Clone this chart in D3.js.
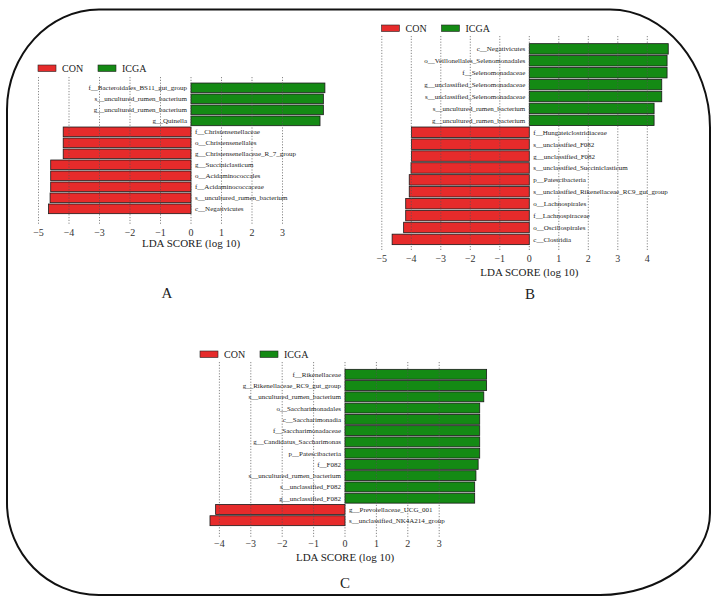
<!DOCTYPE html>
<html>
<head>
<meta charset="utf-8">
<script src="https://cdn.jsdelivr.net/npm/d3@7/dist/d3.min.js"></script>
<style>
  html, body { margin: 0; padding: 0; background: #fff; }
  svg { display: block; }
</style>
</head>
<body>
<svg id="chart" width="719" height="603" font-family="'Liberation Serif', 'Times New Roman', Times, 'DejaVu Serif', serif"></svg>
<script>
// ---------- DATA ----------
const groups = ["CON", "ICGA"];

const labelsA = [
  "f__Bacteroidales_BS11_gut_group",
  "s__uncultured_rumen_bacterium",
  "g__uncultured_rumen_bacterium",
  "g__Quinella",
  "f__Christensenellaceae",
  "o__Christensenellales",
  "g__Christensenellaceae_R_7_group",
  "g__Succiniclasticum",
  "o__Acidaminococcales",
  "f__Acidaminococcaceae",
  "s__uncultured_rumen_bacterium",
  "c__Negativicutes"
];
const valuesA = [4.39, 4.34, 4.34, 4.23, -4.19, -4.19, -4.19, -4.60, -4.60, -4.60, -4.62, -4.67];
const ticksA = [-5, -4, -3, -2, -1, 0, 1, 2, 3];

const labelsB = [
  "c__Negativicutes",
  "o__Veillonellales_Selenomonadales",
  "f__Selenomonadaceae",
  "g__unclassified_Selenomonadaceae",
  "s__unclassified_Selenomonadaceae",
  "s__uncultured_rumen_bacterium",
  "g__uncultured_rumen_bacterium",
  "f__Hungateiclostridiaceae",
  "s__unclassified_F082",
  "g__unclassified_F082",
  "s__unclassified_Succiniclasticum",
  "p__Patescibacteria",
  "s__unclassified_Rikenellaceae_RC9_gut_group",
  "o__Lachnospirales",
  "f__Lachnospiraceae",
  "o__Oscillospirales",
  "c__Clostridia"
];
const valuesB = [4.71, 4.67, 4.67, 4.49, 4.49, 4.23, 4.23, -3.99, -3.99, -3.99, -4.01, -4.07, -4.07, -4.19, -4.19, -4.26, -4.65];
const ticksB = [-5, -4, -3, -2, -1, 0, 1, 2, 3, 4];

const labelsC = [
  "f__Rikenellaceae",
  "g__Rikenellaceae_RC9_gut_group",
  "s__uncultured_rumen_bacterium",
  "o__Saccharimonadales",
  "c__Saccharimonadia",
  "f__Saccharimonadaceae",
  "g__Candidatus_Saccharimonas",
  "p__Patescibacteria",
  "f__F082",
  "s__uncultured_rumen_bacterium",
  "s__unclassified_F082",
  "g__unclassified_F082",
  "g__Prevotellaceae_UCG_001",
  "s__unclassified_NK4A214_group"
];
const valuesC = [4.51, 4.51, 4.42, 4.29, 4.29, 4.29, 4.29, 4.29, 4.24, 4.17, 4.13, 4.13, -4.12, -4.30];
const ticksC = [-4, -3, -2, -1, 0, 1, 2, 3];

const axisTitle = "LDA SCORE (log 10)";
const panelLetters = ["A", "B", "C"];

// ---------- STYLE / LAYOUT ----------
const colors = { CON: "#e62b2b", ICGA: "#148a14" };
const svg = d3.select("#chart");

// frame with rounded corners
(function frame() {
  const L = 7, T = 9.5, R = 710, B = 595;
  const p = d3.path();
  p.moveTo(L + 92, T);
  p.lineTo(R - 100, T);
  p.bezierCurveTo(R - 45, T, R, T + 55, R, T + 118);
  p.lineTo(R, B - 82);
  p.bezierCurveTo(R, B - 37, R - 50, B, R - 110, B);
  p.lineTo(L + 92, B);
  p.bezierCurveTo(L + 40, B, L, B - 42, L, B - 92);
  p.lineTo(L, T + 100);
  p.bezierCurveTo(L, T + 45, L + 42, T, L + 92, T);
  p.closePath();
  svg.append("path").attr("d", p.toString())
    .attr("fill", "none").attr("stroke", "#111").attr("stroke-width", 2);
})();

const panels = [
  { labels: labelsA, values: valuesA, ticks: ticksA, letter: panelLetters[0],
    x0: 191, unit: 30.5, top: 82.7, bottom: 214, gTop: 77, gBot: 225,
    tickY: 235.5, titleY: 247, letterX: 167, letterY: 298,
    legX: 38, legY: 65 },
  { labels: labelsB, values: valuesB, ticks: ticksB, letter: panelLetters[1],
    x0: 529.3, unit: 29.5, top: 43.3, bottom: 245, gTop: 36, gBot: 251,
    tickY: 261.5, titleY: 276, letterX: 530, letterY: 298.5,
    legX: 381.5, legY: 25 },
  { labels: labelsC, values: valuesC, ticks: ticksC, letter: panelLetters[2],
    x0: 345, unit: 31.4, top: 369, bottom: 526, gTop: 362, gBot: 537,
    tickY: 546.5, titleY: 561, letterX: 345, letterY: 588,
    legX: 200, legY: 351 }
];

panels.forEach(P => {
  const g = svg.append("g");
  const x = d3.scaleLinear().domain([0, 1]).range([P.x0, P.x0 + P.unit]);
  const y = d3.scaleBand().domain(d3.range(P.labels.length))
    .range([P.top, P.bottom]).paddingInner(0.12).paddingOuter(0.03);
  const data = P.labels.map((l, i) => ({ label: l, value: P.values[i], i }));

  // legend
  groups.forEach((grp, k) => {
    const lx = P.legX + k * 60;
    g.append("rect").attr("x", lx).attr("y", P.legY).attr("width", 18).attr("height", 6.5)
      .attr("fill", colors[grp]).attr("stroke", "#222").attr("stroke-width", 0.6);
    g.append("text").attr("x", lx + 24).attr("y", P.legY + 7)
      .attr("font-size", 10).attr("fill", "#222").text(grp);
  });

  // bars
  g.selectAll("rect.bar").data(data).enter().append("rect")
    .attr("class", "bar")
    .attr("x", d => Math.min(x(0), x(d.value)))
    .attr("width", d => Math.abs(x(d.value) - x(0)))
    .attr("y", d => y(d.i))
    .attr("height", y.bandwidth())
    .attr("fill", d => d.value < 0 ? colors.CON : colors.ICGA)
    .attr("stroke", "#1a1a1a").attr("stroke-width", 0.8);

  // dotted grid (over bars)
  g.selectAll("line.grid").data(P.ticks).enter().append("line")
    .attr("class", "grid")
    .attr("x1", d => x(d)).attr("x2", d => x(d))
    .attr("y1", P.gTop).attr("y2", P.gBot)
    .attr("stroke", "#555").attr("stroke-width", 0.7)
    .attr("stroke-dasharray", "1.2,1.6");

  // tick labels
  g.selectAll("text.tick").data(P.ticks).enter().append("text")
    .attr("class", "tick")
    .attr("x", d => x(d)).attr("y", P.tickY)
    .attr("text-anchor", "middle").attr("font-size", 10).attr("fill", "#333")
    .text(d => d < 0 ? "\u2212" + Math.abs(d) : d);

  // bar labels
  g.selectAll("text.lab").data(data).enter().append("text")
    .attr("class", "lab")
    .attr("x", d => d.value < 0 ? x(0) + 4 : x(0) - 4)
    .attr("y", d => y(d.i) + y.bandwidth() / 2)
    .attr("dy", "0.35em")
    .attr("text-anchor", d => d.value < 0 ? "start" : "end")
    .attr("font-size", 7).attr("fill", "#222")
    .text(d => d.label);

  // axis title
  g.append("text").attr("x", x(0)).attr("y", P.titleY)
    .attr("text-anchor", "middle").attr("font-size", 11).attr("fill", "#222")
    .text(axisTitle);

  // panel letter
  g.append("text").attr("x", P.letterX).attr("y", P.letterY)
    .attr("text-anchor", "middle").attr("font-size", 15).attr("fill", "#222")
    .text(P.letter);
});
</script>
</body>
</html>
